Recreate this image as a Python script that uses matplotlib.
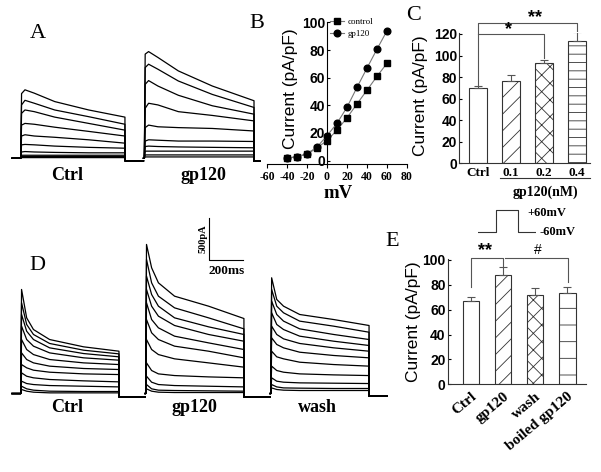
import matplotlib
matplotlib.use('Agg')
import matplotlib.pyplot as plt
import matplotlib.transforms as mtransforms
import numpy as np

W, H = 601, 472

plt.rcParams['font.family'] = 'Liberation Serif'
plt.rcParams['hatch.color'] = '#666666'
plt.rcParams['hatch.linewidth'] = 0.6

SANS = 'Liberation Sans'

# ---------------- data ----------------
# B: I-V curve
iv_mv = [-40, -30, -20, -10, 0, 10, 20, 30, 40, 50, 60]
iv_control = [1.7, 2.8, 4.6, 9.2, 14.5, 22, 31, 41, 51, 61, 70.5]
iv_gp120 = [1.7, 2.9, 4.9, 9.8, 18, 27, 38.6, 53, 67, 80.7, 94]

# C: dose response
c_labels = ['Ctrl', '0.1', '0.2', '0.4']
c_mean = [69.5, 76, 93.5, 113.5]
c_err = [1.8, 5.5, 2.5, 8.5]
c_hatch = ['', '//', 'xx', '--']

# E: wash / boiled
e_labels = ['Ctrl', 'gp120', 'wash', 'boiled gp120']
e_mean = [67.2, 88, 71.5, 73.3]
e_err = [3, 6, 5.5, 4.5]
e_hatch = ['', '//', 'xx', '-']

# stimulus protocol (ms, mV)
stim_t = [0, 50, 50, 110, 110, 160]
stim_v = [-60, -60, 60, 60, -60, -60]

# A: current sweeps (pA), sampled at ms after step onset
a_ctrl_t = [0, 5, 25, 80, 200, 400, 613]
a_ctrl = [
    [0, 770, 815, 775, 675, 575, 490],
    [0, 635, 690, 655, 575, 495, 405],
    [0, 535, 575, 555, 490, 415, 335],
    [0, 395, 415, 405, 370, 320, 265],
    [0, 265, 280, 265, 250, 220, 180],
    [0, 160, 165, 160, 145, 130, 120],
    [0, 75, 80, 75, 70, 65, 65],
    [0, 36, 36, 36, 36, 36, 36],
    [0, 20, 20, 20, 20, 20, 20],
    [0, 8, 8, 8, 8, 8, 8],
]
a_gp_t = [0, 5, 25, 80, 200, 400, 645]
a_gp = [
    [0, 1240, 1270, 1200, 1040, 860, 685],
    [0, 1080, 1120, 1060, 920, 760, 605],
    [0, 880, 925, 860, 750, 625, 525],
    [0, 595, 655, 635, 555, 510, 445],
    [0, 365, 395, 375, 365, 355, 325],
    [0, 205, 220, 215, 205, 205, 200],
    [0, 140, 145, 140, 135, 130, 125],
    [0, 85, 85, 85, 85, 85, 85],
    [0, 40, 40, 40, 40, 40, 40],
    [0, 16, 16, 16, 16, 16, 16],
]

# D: current sweeps (pA)
d_t = [0, 5, 35, 75, 170, 370, 578]
d_ctrl = [
    [0, 1239, 901, 762, 643, 556, 504],
    [0, 1080, 822, 703, 596, 516, 472],
    [0, 941, 742, 643, 544, 476, 437],
    [0, 802, 643, 564, 484, 425, 397],
    [0, 643, 524, 464, 405, 365, 345],
    [0, 484, 405, 365, 326, 298, 286],
    [0, 345, 306, 278, 254, 234, 226],
    [0, 246, 206, 187, 167, 151, 139],
    [0, 147, 119, 107, 95, 87, 79],
    [0, 87, 56, 40, 28, 24, 24],
    [0, 48, 28, 16, 8, 8, 8],
]
d_gp = [
    [0, 1775, 1497, 1318, 1159, 1040, 893],
    [0, 1596, 1318, 1159, 1020, 901, 770],
    [0, 1397, 1179, 1040, 901, 794, 703],
    [0, 1239, 1040, 921, 810, 703, 623],
    [0, 1080, 881, 782, 683, 603, 524],
    [0, 881, 723, 643, 564, 504, 425],
    [0, 643, 524, 464, 413, 365, 314],
    [0, 365, 274, 234, 214, 198, 187],
    [0, 206, 135, 107, 95, 87, 79],
    [0, 107, 56, 40, 36, 32, 28],
    [0, 56, 28, 16, 12, 12, 12],
]
d_wash = [
    [0, 1378, 1120, 1040, 941, 881, 810],
    [0, 1239, 1040, 961, 862, 802, 730],
    [0, 1100, 941, 862, 770, 703, 643],
    [0, 961, 822, 762, 683, 623, 572],
    [0, 802, 703, 651, 596, 544, 504],
    [0, 663, 584, 544, 492, 453, 425],
    [0, 504, 437, 413, 373, 345, 326],
    [0, 326, 274, 254, 234, 222, 214],
    [0, 187, 147, 135, 127, 123, 119],
    [0, 107, 79, 67, 64, 60, 60],
    [0, 67, 48, 40, 36, 36, 36],
]


def fx(x):
    return x / W


def fy(y):
    return 1 - y / H


def box(x0, y0, x1, y1):
    # pixel box -> figure fraction rect
    return [x0 / W, 1 - y1 / H, (x1 - x0) / W, (y1 - y0) / H]


def draw_sweeps(ax, t, sweeps, start, onset, stop, tail):
    for amp in sweeps:
        x = [start, onset] + [onset + v for v in t] + [onset + t[-1], stop]
        y = [0, 0] + list(amp) + [tail, tail]
        ax.plot(x, y, color='black', lw=0.9, solid_joinstyle='round')


fig = plt.figure(figsize=(W / 100, H / 100), dpi=100)

# ---------------- A ----------------
axA = fig.add_axes(box(10, 40, 262, 165))
axA.set_xlim(0, 1482)
axA.set_ylim(-80, 1408)
axA.axis('off')
draw_sweeps(axA, a_ctrl_t, a_ctrl, 12, 63, 785, -30)
draw_sweeps(axA, a_gp_t, a_gp, 785, 790, 1470, -35)
fig.text(fx(67), fy(176), 'Ctrl', ha='center', va='center', fontsize=13, fontweight='bold')
fig.text(fx(203), fy(176), 'gp120', ha='center', va='center', fontsize=13, fontweight='bold')

# ---------------- B ----------------
axB = fig.add_axes(box(267, 22.5, 407, 164))
axB.plot(iv_mv, iv_control, color='#777777', lw=0.8, marker='s', ms=4.3,
         mfc='black', mec='black', label='control')
axB.plot(iv_mv, iv_gp120, color='#777777', lw=0.8, marker='o', ms=4.8,
         mfc='black', mec='black', label='gp120')
axB.set_xlim(-60, 80)
axB.set_ylim(-2.5, 100)
axB.spines['top'].set_visible(False)
axB.spines['right'].set_visible(False)
axB.spines['left'].set_position(('data', 0))
axB.spines['left'].set_bounds(-2.5, 100)
axB.set_xticks(range(-60, 81, 20))
axB.set_xticklabels([str(v) for v in range(-60, 81, 20)], fontsize=8.5, fontweight='bold')
axB.set_yticks(range(0, 101, 20))
axB.set_yticklabels([str(v) for v in range(0, 101, 20)], fontsize=10,
                    fontweight='bold', family=SANS)
axB.tick_params(axis='x', length=3, pad=2, width=0.8)
axB.tick_params(axis='y', direction='in', length=2, pad=1.5, width=0.8)
for s in axB.spines.values():
    s.set_linewidth(0.8)
leg = axB.legend(loc='upper left', bbox_to_anchor=(fx(330), fy(18)),
                 bbox_transform=fig.transFigure, frameon=False,
                 prop={'size': 6.5}, handlelength=1.6, handletextpad=0.3,
                 labelspacing=0.35, borderaxespad=0, borderpad=0)
fig.text(fx(338), fy(193), 'mV', ha='center', va='center', fontsize=13.5, fontweight='bold')
fig.text(fx(290), fy(89), 'Current (pA/pF)', rotation=90, ha='center', va='center',
         fontsize=12.5, family=SANS)

# ---------------- C ----------------
axC = fig.add_axes(box(459, 32.9, 590, 163.3))
xc = np.arange(len(c_labels))
axC.bar(xc, c_mean, width=0.56, color='white', edgecolor='#333333', lw=0.8,
        hatch=c_hatch, zorder=2)
axC.errorbar(xc, c_mean, yerr=[np.zeros(len(c_err)), c_err], fmt='none',
             ecolor='#555555', elinewidth=0.8, capsize=3, capthick=0.8, zorder=3)
axC.set_xlim(-0.58, 3.39)
axC.set_ylim(0, 121)
axC.spines['top'].set_visible(False)
axC.spines['right'].set_visible(False)
axC.set_xticks(xc)
axC.set_xticklabels(c_labels, fontsize=9.5, fontweight='bold')
axC.set_yticks(range(0, 121, 20))
axC.set_yticklabels([str(v) for v in range(0, 121, 20)], fontsize=10,
                    fontweight='bold', family=SANS)
axC.tick_params(axis='x', length=0, pad=3)
axC.tick_params(axis='y', direction='in', length=2, pad=1.5, width=0.8)
for s in axC.spines.values():
    s.set_linewidth(0.8)
    s.set_color('#333333')
br = dict(color='#555555', lw=0.8, clip_on=False)
axC.plot([0, 0, 3, 3], [73, 130, 130, 123], **br)
axC.plot([0, 2, 2], [120, 120, 97.5], **br)
axC.text(0.91, 124, '*', ha='center', va='center', fontsize=13, fontweight='bold', family=SANS)
axC.text(1.72, 135, '**', ha='center', va='center', fontsize=13, fontweight='bold', family=SANS)
axC.plot([0.67, 3.39], [-14.1, -14.1], color='#333333', lw=0.8, clip_on=False)
fig.text(fx(545), fy(192), 'gp120(nM)', ha='center', va='center', fontsize=10, fontweight='bold')
fig.text(fx(421), fy(96), 'Current (pA/pF)', rotation=90, ha='center', va='center',
         fontsize=12.5, family=SANS)

# ---------------- D ----------------
axD = fig.add_axes(box(10, 200, 392, 400))
axD.set_xlim(0, 2247)
axD.set_ylim(-77, 2304)
axD.axis('off')
draw_sweeps(axD, d_t, d_ctrl, 12, 63, 795, -40)
draw_sweeps(axD, d_t, d_gp, 795, 798, 1530, -40)
draw_sweeps(axD, d_t, d_wash, 1530, 1534, 2218, -30)
# scale bar 200 ms / 500 pA
axD.plot([1172, 1172, 1372], [2090, 1590, 1590], color='black', lw=0.8)
axD.text(1135, 1840, '500pA', rotation=90, ha='center', va='center', fontsize=7.5,
         fontweight='bold')
axD.text(1272, 1460, '200ms', ha='center', va='center', fontsize=9.5, fontweight='bold')
fig.text(fx(67), fy(408), 'Ctrl', ha='center', va='center', fontsize=13, fontweight='bold')
fig.text(fx(194), fy(408), 'gp120', ha='center', va='center', fontsize=13, fontweight='bold')
fig.text(fx(317), fy(408), 'wash', ha='center', va='center', fontsize=13, fontweight='bold')

# ---------------- E ----------------
axE = fig.add_axes(box(447.7, 258.6, 586.3, 384.3))
xe = np.arange(len(e_labels))
axE.bar(xe, e_mean, width=0.51, color='white', edgecolor='#333333', lw=0.8,
        hatch=e_hatch, zorder=2)
axE.errorbar(xe, e_mean, yerr=[np.zeros(len(e_err)), e_err], fmt='none',
             ecolor='#555555', elinewidth=0.8, capsize=3, capthick=0.8, zorder=3)
axE.set_xlim(-0.726, 3.59)
axE.set_ylim(0, 101)
axE.spines['top'].set_visible(False)
axE.spines['right'].set_visible(False)
axE.set_xticks(xe)
axE.set_xticklabels(e_labels, fontsize=11, fontweight='bold', rotation=40,
                    ha='right', va='top', rotation_mode='anchor')
shift = mtransforms.ScaledTranslation(7 / 100, 0, fig.dpi_scale_trans)
for lab in axE.get_xticklabels():
    lab.set_transform(lab.get_transform() + shift)
axE.set_yticks(range(0, 101, 20))
axE.set_yticklabels([str(v) for v in range(0, 101, 20)], fontsize=10,
                    fontweight='bold', family=SANS)
axE.tick_params(axis='x', length=0, pad=4)
axE.tick_params(axis='y', direction='in', length=2, pad=1.5, width=0.8)
for s in axE.spines.values():
    s.set_linewidth(0.8)
    s.set_color('#333333')
axE.plot([0, 0, 0.99, 0.99], [78, 101.5, 101.5, 94.5], **br)
axE.plot([1.06, 3.03, 3.03], [101.5, 101.5, 82], **br)
axE.text(0.44, 107.5, '**', ha='center', va='center', fontsize=13, fontweight='bold', family=SANS)
axE.text(2.09, 108, '#', ha='center', va='center', fontsize=10, family=SANS)
fig.text(fx(413.5), fy(322), 'Current (pA/pF)', rotation=90, ha='center', va='center',
         fontsize=12.5, family=SANS)

# stimulus inset
axS = fig.add_axes(box(478, 208, 536, 234))
axS.plot(stim_t, stim_v, color='#333333', lw=0.8)
axS.set_xlim(0, 160)
axS.set_ylim(-71, 71)
axS.axis('off')
fig.text(fx(527), fy(213), '+60mV', ha='left', va='center', fontsize=9, fontweight='bold')
fig.text(fx(540), fy(232), '-60mV', ha='left', va='center', fontsize=9, fontweight='bold')

# panel letters
for letter, (px, py) in {'A': (38, 34), 'B': (257, 24), 'C': (414, 15),
                         'D': (37, 265), 'E': (392, 242)}.items():
    fig.text(fx(px), fy(py), letter, ha='center', va='center', fontsize=16)

fig.savefig('out.png', dpi=100)
